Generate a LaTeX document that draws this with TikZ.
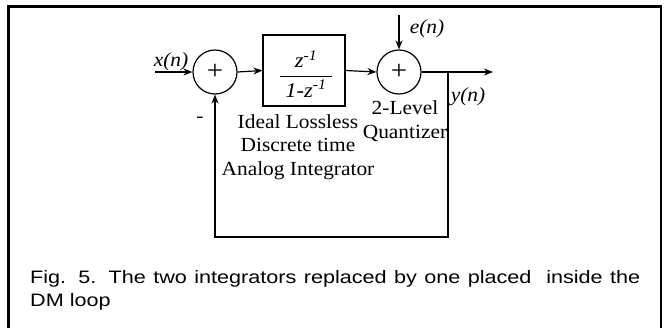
\documentclass[tikz,border=0pt]{standalone}
\usepackage{amsmath}
\usepackage{fontspec}
\setmainfont{Liberation Serif}[FakeStretch=1.07]
\newfontfamily\capfont{Liberation Sans}[FakeStretch=1.2]
\usepackage{tikz}
\usetikzlibrary{calc,arrows.meta}

\tikzset{
  sumnode/.style={circle, draw, line width=1.2pt, minimum size=44pt, inner sep=0pt, font=\fontsize{27}{27}\selectfont},
  intbox/.style={draw, line width=1.2pt, minimum width=82pt, minimum height=71pt, inner sep=0pt},
  sig/.style={line width=1.2pt},
  lbl/.style={font=\fontsize{20}{23.3}\selectfont, align=center, inner sep=0pt},
  signame/.style={font=\fontsize{20}{23}\selectfont\itshape, inner sep=0pt, anchor=base}
}

\begin{document}
\begin{tikzpicture}[x=1pt, y=-1pt, >={Stealth[length=9pt,width=7pt]}]
  \useasboundingbox (0,0) rectangle (668,327);
  % ---- frame ----
  \draw[line width=2.5pt] (8.5,330) -- (8.5,6.5) -- (661,6.5) -- (661,330);
  % ---- blocks ----
  \node[sumnode] (sumin) at (215,72) {+};
  \node[intbox] (integ) at (304,70.5) {};
  \node[inner sep=0pt, font=\fontsize{21}{23}\selectfont] (frac) at (306,74)
    {$\displaystyle\frac{\;\textit{z}^{\textit{-1}}\;}{\;\textit{1-z}^{\textit{-1}}\;}$};
  \node[sumnode] (sumq) at (399,72) {+};
  \coordinate (xin) at (155,72);
  \coordinate (etop) at (399,15);
  \coordinate (yout) at (493,72);
  \coordinate (tap) at (448,72);
  \coordinate (fbr) at (448,237);
  \coordinate (fbl) at (215,237);
  % ---- connectors ----
  \draw[sig, ->] (xin) -- (sumin.west);
  \draw[sig, ->] (sumin.east) -- (integ.west);
  \draw[sig, ->] (integ.east) -- (sumq.west);
  \draw[sig, ->] (etop) -- (sumq.north);
  \draw[sig, ->] (sumq.east) -- (yout);
  \draw[sig, ->] (tap) -- (fbr) -- (fbl) -- (sumin.south);
  % ---- labels ----
  \node[signame] (xname) at (171,66.5) {x(n)};
  \node[signame] (ename) at (427,33) {e(n)};
  \node[signame] (yname) at (468,101) {y(n)};
  \node[lbl] (minus) at (200,120) {-};
  \node[lbl, anchor=base] (intlbl) at (298,175) {Ideal Lossless\\Discrete time\\Analog Integrator};
  \node[lbl, anchor=base] (qlbl) at (405,138) {2-Level\\Quantizer};
  % ---- caption ----
  \node[anchor=base west, inner sep=0pt, text width=610pt, align=justify,
        font=\capfont\fontsize{18}{23}\selectfont] (cap) at (30,283)
    {Fig. 5. The two integrators replaced by one placed\ \ inside the\linebreak DM loop};
\end{tikzpicture}
\end{document}
